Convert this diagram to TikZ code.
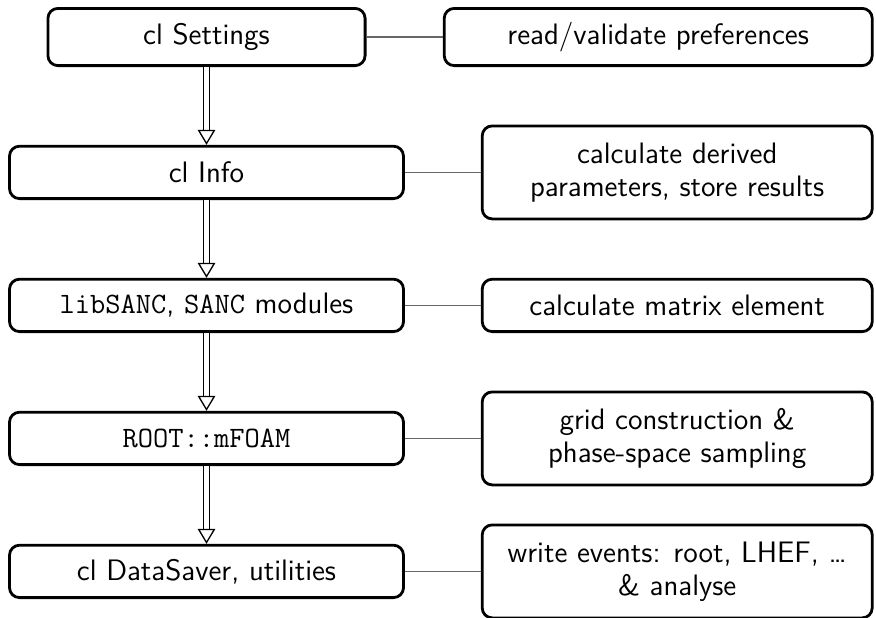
\documentclass[tikz,border=0pt]{standalone}
\usepackage{tikz}
\usetikzlibrary{arrows.meta,positioning}
\definecolor{flowLine}{HTML}{666666}
\tikzset{
  flowStep/.style={
    draw,
    rounded corners=5pt,
    line width=1.4pt,
    align=center,
    minimum height=26.2pt,
    minimum width=197pt,
    inner sep=3pt
  },
  flowTask/.style={
    draw,
    rounded corners=5pt,
    line width=1.4pt,
    align=center,
    anchor=east,
    minimum height=26.2pt,
    minimum width=195pt,
    inner sep=3pt
  },
  flowLink/.style={draw=flowLine, line width=0.7pt},
  flowPass/.style={
    double,
    double distance=2.6pt,
    line width=0.65pt,
    -{Triangle[open, length=7.5pt, width=8.8pt]}
  }
}

\begin{document}
\begin{tikzpicture}[font=\sffamily\fontsize{14.8pt}{16.5pt}\selectfont, node distance=38.9pt]
  \useasboundingbox (0,0) rectangle (438pt,-308.5pt);
  \coordinate (rightEdge) at (436.8pt,0);

  \node[flowStep, minimum width=158.6pt, minimum height=28.6pt] (settings) at (103.25pt,-18.5pt) {cl Settings};
  \node[flowStep, below=of settings] (info) {cl Info};
  \node[flowStep, below=of info] (sanc) {\texttt{libSANC}, \texttt{SANC} modules};
  \node[flowStep, below=of sanc] (foam) {\texttt{ROOT::mFOAM}};
  \node[flowStep, below=of foam] (saver) {cl DataSaver, utilities};

  \node[flowTask, minimum width=214pt, minimum height=28.6pt] (settingsTask) at (settings -| rightEdge) {read/validate preferences};
  \node[flowTask, minimum height=46.5pt] (infoTask) at (info -| rightEdge) {calculate derived\\parameters, store results};
  \node[flowTask] (sancTask) at (sanc -| rightEdge) {calculate matrix element};
  \node[flowTask, minimum height=46.5pt] (foamTask) at (foam -| rightEdge) {grid construction \&\\phase-space sampling};
  \node[flowTask, minimum height=46.5pt] (saverTask) at (saver -| rightEdge) {write events: root, LHEF, \dots\\\& analyse};

  \foreach \a/\b in {settings/info,info/sanc,sanc/foam,foam/saver}
    \draw[flowPass] (\a) -- (\b);
  \foreach \a in {settings,info,sanc,foam,saver}
    \draw[flowLink] (\a) -- (\a Task);
\end{tikzpicture}
\end{document}
